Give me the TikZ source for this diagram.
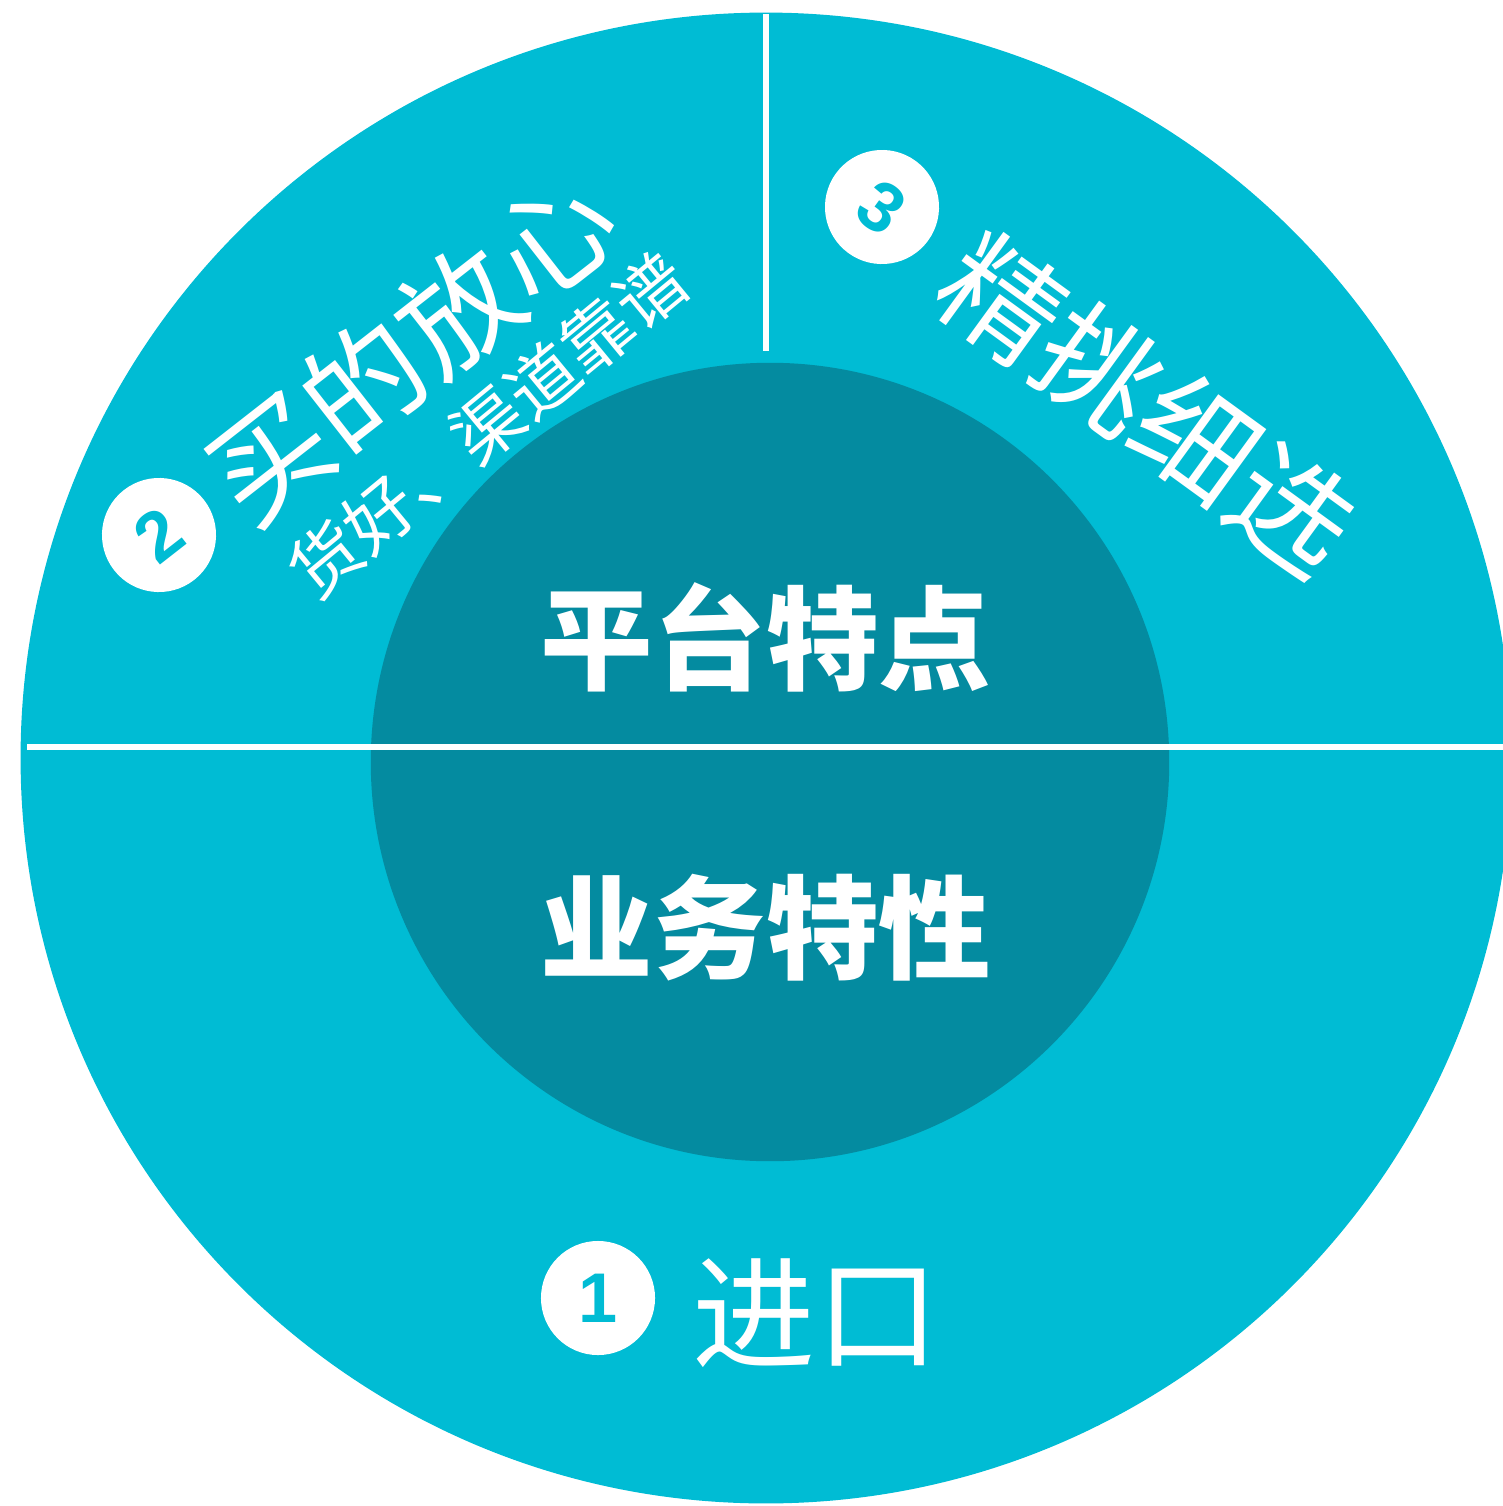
\documentclass[tikz,border=0pt]{standalone}
\usepackage{fontspec}
\newfontfamily\cjk{Noto Sans CJK SC}
\newfontfamily\numf{Liberation Sans}
\definecolor{outerc}{RGB}{0,188,212}
\definecolor{innerc}{RGB}{4,139,160}
\tikzset{
  ring/.style={circle, fill=outerc, inner sep=0pt, minimum size=14.9cm},
  hub/.style={circle, fill=innerc, inner sep=0pt, minimum size=7.98cm},
  divider/.style={white, line width=1.45pt},
  badge/.style={circle, fill=white, inner sep=0pt, minimum size=1.14cm, text=outerc, font=\numf\bfseries\fontsize{20pt}{20pt}\selectfont},
  bigtxt/.style={text=white, inner sep=0pt, font=\cjk\fontsize{34pt}{34pt}\selectfont},
  subtxt/.style={text=white, inner sep=0pt, font=\cjk\fontsize{20pt}{20pt}\selectfont},
  hubtxt/.style={text=white, inner sep=0pt, font=\cjk\bfseries\fontsize{32pt}{32pt}\selectfont},
}
\begin{document}
\begin{tikzpicture}[x=0.01cm,y=-0.01cm]
\useasboundingbox (0,0) rectangle (1503,1506);
\begin{scope}
\clip (0,0) rectangle (1503,1506);
\node[ring] (outer) at (766,758) {};
\node[hub] (inner) at (770,762) {};
\end{scope}
\coordinate (hl) at (27,747);
\coordinate (hr) at (1503,747);
\coordinate (vt) at (766,14);
\coordinate (vb) at (766,351);
\draw[divider] (hl) -- (hr);
\draw[divider] (vt) -- (vb);
\node[hubtxt] (t1) at (766,637) {平台特点};
\node[hubtxt] (t2) at (766,928) {业务特性};
\node[badge] (b1) at (598,1298) {1};
\node[bigtxt, font=\cjk\fontsize{35pt}{35pt}\selectfont] (l1) at (816,1313) {进口};
\node[badge, rotate=38] (b2) at (159,535) {2};
\node[bigtxt, rotate=38] (l2) at (411,347) {买的放心};
\node[subtxt, rotate=39.5] (s2) at (488,425) {货好、渠道靠谱};
\node[badge, rotate=-36] (b3) at (882,207) {3};
\node[bigtxt, rotate=-36] (l3) at (1148,404) {精挑细选};
\end{tikzpicture}
\end{document}
